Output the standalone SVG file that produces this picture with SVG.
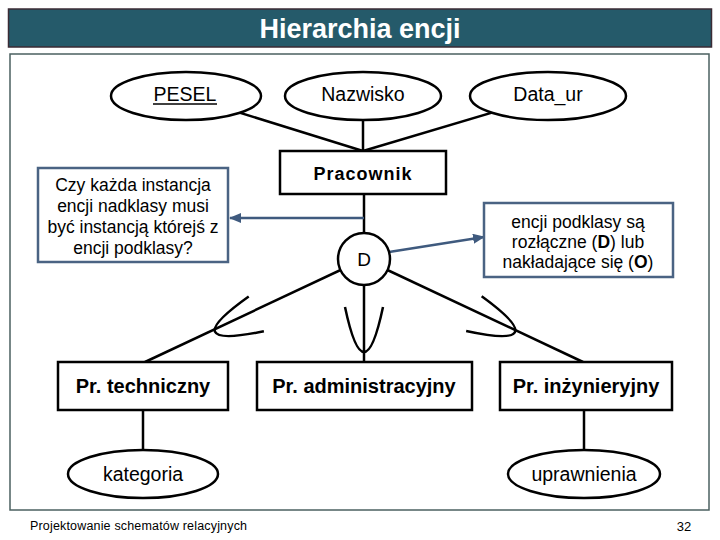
<svg xmlns="http://www.w3.org/2000/svg" width="720" height="540" viewBox="0 0 720 540">
<style>
.ln{stroke:#000;stroke-width:2.5;fill:none}
.blue{stroke:#3f5a7e;stroke-width:2.5;fill:none}
.ent{fill:#fff;stroke:#000;stroke-width:2.5}
.note{fill:#fff;stroke:#4a6383;stroke-width:2.5}
.t{font-family:"Liberation Sans",Arial,sans-serif;fill:#000;text-anchor:middle}
.attr{font-size:19.5px}
.sub{font-size:20px;font-weight:bold}
.nt{font-size:17.5px}
</style>
<defs>
<marker id="ah" markerUnits="userSpaceOnUse" markerWidth="12" markerHeight="10" refX="11" refY="5" orient="auto">
<path d="M0,0 L12,5 L0,10 z" fill="#3f5a7e"/>
</marker>
<path id="u" d="M-19,-23 Q0,67 19,-23" />
</defs>
<rect width="720" height="540" fill="#fff"/>
<g id="title">
<rect x="8.5" y="9" width="703" height="38" fill="#255a6a" stroke="#3b2b35" stroke-width="1.5"/>
<text x="360" y="38" font-family="Liberation Sans,Arial,sans-serif" font-size="27" font-weight="bold" fill="#fff" text-anchor="middle">Hierarchia encji</text>
</g>
<rect id="frame" x="10" y="54" width="699" height="456" fill="none" stroke="#4b6060" stroke-width="1.5"/>
<g id="connectors">
<line class="ln" x1="186" y1="96" x2="363" y2="151"/>
<line class="ln" x1="363" y1="96" x2="363" y2="151"/>
<line class="ln" x1="548" y1="96" x2="363" y2="151"/>
<line class="ln" x1="364" y1="194" x2="364" y2="259"/>
<line class="ln" x1="364" y1="259" x2="145" y2="362"/>
<line class="ln" x1="364" y1="259" x2="364" y2="362"/>
<line class="ln" x1="364" y1="259" x2="583" y2="362"/>
<line class="ln" x1="143" y1="410" x2="143" y2="474"/>
<line class="ln" x1="584" y1="410" x2="584" y2="474"/>
<use href="#u" class="ln" transform="translate(235.2,323) rotate(66.5)"/>
<use href="#u" class="ln" transform="translate(364,330)"/>
<use href="#u" class="ln" transform="translate(494.9,323) rotate(-65.9)"/>
<line class="blue" x1="364" y1="218" x2="230" y2="218" marker-end="url(#ah)"/>
<line class="blue" x1="389" y1="252" x2="484" y2="237" marker-end="url(#ah)"/>
</g>
<g id="pesel">
<ellipse class="ent" cx="186" cy="96" rx="75" ry="24"/>
<text class="t attr" x="185" y="101">PESEL</text>
<line x1="153" y1="104" x2="217" y2="104" stroke="#000" stroke-width="1.5"/>
</g>
<g id="nazwisko">
<ellipse class="ent" cx="363" cy="96" rx="78" ry="24"/>
<text class="t attr" x="363" y="101">Nazwisko</text>
</g>
<g id="data_ur">
<ellipse class="ent" cx="548" cy="96" rx="78" ry="24"/>
<text class="t attr" x="548" y="101">Data_ur</text>
</g>
<g id="pracownik">
<rect class="ent" x="280" y="151" width="166" height="43"/>
<text class="t" x="363" y="180" font-size="18" font-weight="bold" letter-spacing="1">Pracownik</text>
</g>
<g id="note-left">
<rect class="note" x="38" y="168" width="190" height="94"/>
<text class="t nt" x="133" y="191">Czy każda instancja</text>
<text class="t nt" x="133" y="212">encji nadklasy musi</text>
<text class="t nt" x="133" y="233">być instancją którejś z</text>
<text class="t nt" x="133" y="254">encji podklasy?</text>
</g>
<g id="d">
<circle class="ent" cx="364" cy="259" r="26"/>
<text class="t" x="364" y="266" font-size="19">D</text>
</g>
<g id="note-right">
<rect class="note" x="484" y="203" width="189" height="74"/>
<text class="t nt" x="578" y="228">encji podklasy są</text>
<text class="t nt" x="578" y="248">rozłączne (<tspan font-weight="bold">D</tspan>) lub</text>
<text class="t nt" x="578" y="268">nakładające się (<tspan font-weight="bold">O</tspan>)</text>
</g>
<g id="techniczny">
<rect class="ent" x="58" y="362" width="170" height="48"/>
<text class="t sub" x="143" y="393">Pr. techniczny</text>
</g>
<g id="administracyjny">
<rect class="ent" x="257" y="362" width="215" height="48"/>
<text class="t sub" x="364" y="393">Pr. administracyjny</text>
</g>
<g id="inzynieryjny">
<rect class="ent" x="500" y="362" width="172" height="48"/>
<text class="t sub" x="586" y="393">Pr. inżynieryjny</text>
</g>
<g id="kategoria">
<ellipse class="ent" cx="143" cy="474" rx="75" ry="24"/>
<text class="t attr" x="143" y="481">kategoria</text>
</g>
<g id="uprawnienia">
<ellipse class="ent" cx="584" cy="474" rx="76" ry="24"/>
<text class="t attr" x="584" y="481">uprawnienia</text>
</g>
<g id="footer">
<text x="30" y="530" font-family="Liberation Sans,Arial,sans-serif" font-size="12.5" textLength="217" fill="#000">Projektowanie schematów relacyjnych</text>
<text x="684" y="531" font-family="Liberation Sans,Arial,sans-serif" font-size="13" fill="#000" text-anchor="middle">32</text>
</g>
</svg>
